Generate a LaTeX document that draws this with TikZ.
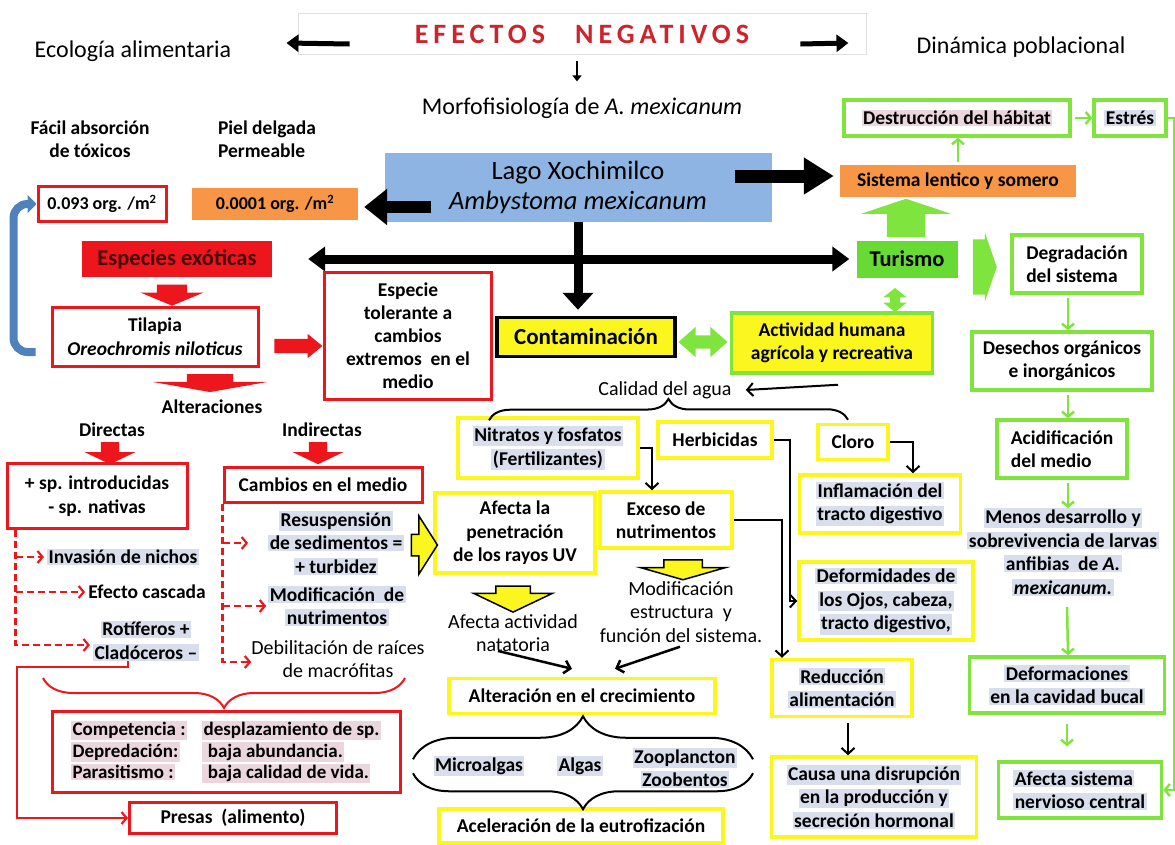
\documentclass[tikz,border=0pt]{standalone}
\usepackage{fontspec}
\setmainfont{Carlito}
\usetikzlibrary{arrows.meta, shapes.arrows, decorations.pathreplacing}

\definecolor{rojo}{RGB}{236,22,28}
\definecolor{amarillo}{RGB}{250,246,30}
\definecolor{verde}{RGB}{128,228,62}
\definecolor{verdeT}{RGB}{104,218,52}
\definecolor{naranja}{RGB}{247,150,70}
\definecolor{lago}{RGB}{142,180,227}
\definecolor{azul}{RGB}{79,129,189}
\definecolor{titulo}{RGB}{205,35,45}
\definecolor{oscuro}{RGB}{70,10,10}
\definecolor{halo}{RGB}{216,222,236}
\definecolor{halop}{RGB}{234,214,220}

% texto con sombreado claro
\newcommand\hz[1]{{\setlength{\fboxsep}{1.5pt}\colorbox{halo}{#1}}}
\newcommand\hzp[1]{{\setlength{\fboxsep}{1.5pt}\colorbox{halop}{#1}}}

\tikzset{
  sz/.style 2 args={minimum width=#1pt, minimum height=#2pt},
  txt/.style={inner sep=0pt, align=center, font=\bfseries\fontsize{19.5}{23.5}\selectfont},
  rtxt/.style={inner sep=0pt, align=center, font=\fontsize{20}{23.5}\selectfont},
  redbox/.style={txt, draw=rojo, line width=3pt, fill=white},
  yelbox/.style={txt, draw=amarillo, line width=3.5pt, fill=white},
  grnbox/.style={txt, draw=verde, line width=3.5pt, fill=white},
  % largo, medio ancho del cuerpo, saliente de la punta, angulo
  flecha/.style n args={4}{single arrow, inner xsep=0pt, inner ysep=#2pt, minimum height=#1pt,
    single arrow head extend=#3pt, single arrow tip angle=#4},
  flechados/.style n args={4}{double arrow, inner xsep=0pt, inner ysep=#2pt, minimum height=#1pt,
    double arrow head extend=#3pt, double arrow tip angle=#4},
  tflecha/.style={line width=5pt, -{Triangle[length=12pt,width=17pt]}},
  narr/.style={line width=2pt, -{Straight Barb[length=6pt,width=13pt]}},
  garr/.style={verde, line width=2.5pt, shorten <=3pt, -{Straight Barb[length=5pt,width=12pt]}},
  rdash/.style={rojo, line width=2.2pt, dash pattern=on 7pt off 4pt, -{Straight Barb[length=5pt,width=12pt]}},
  rarr/.style={rojo, line width=2.2pt, -{Straight Barb[length=5pt,width=12pt]}},
  llave/.style={line width=2pt, decorate, decoration={brace, amplitude=#1}},
}

\begin{document}
\begin{tikzpicture}[x=1pt, y=-1pt]
%\draw [help lines] (0,0) grid (1175,844);
\useasboundingbox (0,0) rectangle (1175,844);

% cabecera
\node[draw=gray!25, line width=.8pt, sz={568}{41}, inner sep=0pt,
  font=\bfseries\fontsize{28}{30}\selectfont\addfontfeature{LetterSpace=18}, text=titulo]
  (title) at (582,34) {EFECTOS\hspace{30pt}NEGATIVOS};
\node[rtxt, font=\fontsize{24}{28}\selectfont] (ecol) at (133,51) {Ecología alimentaria};
\node[rtxt, font=\fontsize{24}{28}\selectfont] (dinam) at (1021,47) {Dinámica poblacional};
\node[rtxt, font=\fontsize{24}{28}\selectfont] (morfo) at (582,108) {Morfofisiología de \textit{A. mexicanum}};
\draw[tflecha] ([shift={(52,10)}]title.west) -- ([shift={(55,-8)}]ecol.east);
\draw[tflecha] ([shift={(-66,10)}]title.east) -- ([shift={(-68,-4)}]dinam.west);
\draw[line width=2.5pt, -{Triangle[length=6pt,width=9pt]}] ([shift={(-5,6)}]title.south) -- ([shift={(-5,-16)}]morfo.north);

% lago
\node[txt] (facil) at (90,139) {Fácil absorción\\de tóxicos};
\node[txt, align=left] (piel) at (267,139) {Piel delgada\\Permeable};
\node[rtxt, fill=lago, sz={387}{69}, font=\fontsize{26.5}{30}\selectfont] (lago) at (578,187)
  {Lago Xochimilco\\\textit{Ambystoma mexicanum}};
\node[redbox, sz={128}{35}, font=\bfseries\fontsize{18}{20}\selectfont] (dens1) at (102,204) {0.093 org. /m\textsuperscript{2}};
\node[txt, fill=naranja, sz={166}{32}, font=\bfseries\fontsize{18}{20}\selectfont] (dens2) at (275,204) {0.0001 org. /m\textsuperscript{2}};
\draw[line width=12pt, -{Triangle[length=23pt,width=35pt]}] ([shift={(47,20)}]lago.west) -- ([shift={(6,3)}]dens2.east);

\node[txt, fill=naranja, sz={236}{32}] (sist) at (958,181) {Sistema lentico y somero};
\node[grnbox, sz={226}{36}] (destr) at (957,118) {\hzp{Destrucción del hábitat}};
\node[grnbox, sz={72}{36}] (estres) at (1130,118) {\hz{Estrés}};
\draw[line width=13pt, -{Triangle[length=30pt,width=35pt]}] ([shift={(-37,-11)}]lago.east) -- ([shift={(-6,-5)}]sist.west);
\draw[garr] (sist.north) -- (sist.north |- destr.south);
\draw[garr] (destr.east) -- (estres.west);

\node[txt, fill=verdeT, sz={101}{37}, font=\bfseries\fontsize{22.5}{26}\selectfont] (turismo) at (907,259) {Turismo};
\node[txt, fill=rojo, sz={190}{36}, text=oscuro, font=\bfseries\fontsize{22.5}{26}\selectfont] (especies) at (177,259) {Especies exóticas};
\node[flecha={38}{19}{26}{143}, fill=verde, rotate=90] (gup) at (906,221) {};
\draw[line width=9pt, {Triangle[length=17pt,width=24pt]}-{Triangle[length=17pt,width=24pt]}]
  ([xshift=36pt]especies.east) -- ([xshift=-7pt]turismo.west);

% especies exoticas
\node[redbox, sz={206}{59}, font=\bfseries\fontsize{19.5}{24}\selectfont] (tilapia) at (155,337) {Tilapia\\\textit{Oreochromis niloticus}};
\node[redbox, sz={167}{127}, font=\bfseries\fontsize{19.5}{23}\selectfont] (toler) at (408,336)
  {Especie\\tolerante a\\cambios\\extremos~ en el\\medio};
\node[flecha={21}{15}{16.5}{135}, fill=rojo, rotate=-90] (ra1) at (172,292) {};
\node[flecha={48}{7}{5}{79}, fill=rojo] (ra2) at (294,346) {};
\node[flecha={18}{23}{34}{160}, fill=rojo, rotate=-90] (ra3) at (210,381) {};
\draw[azul, line width=8pt, rounded corners=14pt, -{Triangle[length=9pt,width=18pt]}]
  ([xshift=-15pt,yshift=-15pt]tilapia.west) -- ++(-22,0) |- (dens1.west);

\node[txt] (alt) at (212,407) {Alteraciones};
\node[txt] (dir) at (112,430) {Directas};
\node[txt] (indir) at (322,430) {Indirectas};
\node[flecha={22}{9}{16}{129}, fill=rojo, rotate=-90] (ra4) at (110,451) {};
\node[flecha={22}{9}{16}{129}, fill=rojo, rotate=-90] (ra5) at (318,451) {};
\node[redbox, sz={180}{65}] (sp) at (97,496) {+ sp. introducidas\\- sp. nativas};
\node[redbox, sz={198}{35}] (camb) at (323,485) {Cambios en el medio};

\node[txt] (invas) at (123,557) {\hz{Invasión de nichos}};
\node[txt] (casc) at (147,592) {Efecto cascada};
\node[txt] (rotif) at (146,641) {\hz{Rotíferos +}\\\hz{Cladóceros –}};
\node[txt] (resus) at (336,543) {\hz{Resuspensión}\\\hz{de sedimentos =}\\\hz{+ turbidez}};
\node[txt] (modnut) at (337,606) {\hz{Modificación~ de}\\\hz{nutrimentos}};
\node[rtxt] (debil) at (338,659) {Debilitación de raíces\\de macrófitas};
\coordinate (dl) at ([xshift=10pt]sp.south west);
\coordinate (dr) at (camb.south west);
\draw[rdash] (dl) |- ([shift={(-3,4)}]rotif.west);
\draw[rdash] (dl |- invas.west) -- ([xshift=-3pt]invas.west);
\draw[rdash] (dl |- casc.west) -- ([xshift=-3pt]casc.west);
\draw[rdash] (dr) |- ([yshift=-3pt]debil.west);
\draw[rdash] (dr |- modnut.west) -- ([xshift=-2pt]modnut.west);
\draw[rdash] (dr |- resus.west) -- ([xshift=-20pt]resus.west);

\node[redbox, sz={348}{81}, align=left, font=\bfseries\fontsize{19}{21.5}\selectfont] (compet) at (226,752)
  {\makebox[131pt][l]{\hzp{Competencia :}}\hzp{desplazamiento de sp.}\\
   \makebox[131pt][l]{\hzp{Depredación:}}\hzp{~baja abundancia.}\\
   \makebox[131pt][l]{\hzp{Parasitismo :}}\hzp{~baja calidad de vida.}};
\node[redbox, sz={207}{31}] (presas) at (233,818) {Presas~ (alimento)};
\draw[rojo, llave=30pt] ([shift={(179,-32)}]compet.north) -- ([shift={(-183,-32)}]compet.north);
\draw[rarr] ([xshift=-18pt]rotif.south) -- ++(0,6) -- ++(-111,0) |- (presas.west);

% contaminacion
\node[txt, fill=amarillo, draw=black, line width=3.5pt, sz={178}{39}, font=\bfseries\fontsize{23}{26}\selectfont]
  (contam) at (586,337) {Contaminación};
\node[grnbox, fill=amarillo, sz={201}{60}] (activ) at (832,343) {Actividad humana\\agrícola y recreativa};
\draw[line width=9pt, shorten >=6pt, -{Triangle[length=17pt,width=30pt]}] (lago.south) -- (lago.south |- contam.north);
\node[flechados={49}{6.5}{8.5}{83}, fill=verde] (gdh) at (703,342) {};
\node[flechados={24}{5}{6.5}{103}, fill=verde, rotate=90] (gdv) at (895,300) {};
\node[rtxt] (calidad) at (665,390) {Calidad del agua};
\draw[narr] ([shift={(6,10)}]activ.south) -- ([xshift=14pt]calidad.east);

\node[yelbox, sz={180}{60}] (nitr) at (548,448) {\hz{Nitratos y fosfatos}\\\hz{(Fertilizantes)}};
\node[yelbox, sz={114}{36}] (herb) at (715,440) {Herbicidas};
\node[yelbox, sz={70}{35}] (cloro) at (853,442) {Cloro};
\draw[llave=21pt] ([shift={(-59,4)}]nitr.north) -- ([shift={(-5,-3)}]cloro.north);
\node[yelbox, sz={161}{58}] (infl) at (880,504) {\hz{Inflamación del}\\\hz{tracto digestivo}};
\node[yelbox, sz={174}{78}] (deform) at (886,601) {\hz{Deformidades de}\\\hz{los Ojos, cabeza,}\\\hz{tracto digestivo,}};
\node[yelbox, sz={160}{80}] (afpen) at (515,533) {Afecta la\\penetración\\de los rayos UV};
\node[yelbox, sz={132}{56}] (exceso) at (666,520) {Exceso de\\nutrimentos};
\node[flecha={26}{10}{18.5}{115}, fill=amarillo, draw=black, line width=1.5pt] (ya0) at (421,545) {};
\node[flecha={26}{16.5}{22}{129}, fill=amarillo, draw=black, line width=1.5pt, rotate=-90] (ya1) at (513,595) {};
\node[flecha={20}{18.5}{23}{148}, fill=amarillo, draw=black, line width=1.5pt, rotate=-90] (ya2) at (683,567) {};
\node[rtxt] (afact) at (513,633) {Afecta actividad\\natatoria};
\node[rtxt] (modest) at (681,612) {Modificación\\estructura~ y\\función del sistema.};
\node[yelbox, sz={140}{57}] (reduc) at (842,688) {\hz{Reducción}\\\hz{alimentación}};
\node[yelbox, sz={205}{80}] (causa) at (874,797) {\hz{Causa una disrupción}\\\hz{en la producción y}\\\hz{secreción hormonal}};
\draw[narr] (nitr.east) -| ([xshift=-14pt]exceso.north);
\draw[narr] (herb.east) -- ++(16,0) |- (deform.west);
\draw[narr] (exceso.east) -| ([xshift=-60pt]reduc.north);
\draw[narr] (cloro.east) -| ([xshift=33pt]infl.north);
\draw[narr, shorten <=5pt] ([xshift=6pt]reduc.south) -- ([xshift=-26pt]causa.north);

\node[yelbox, sz={266}{35}] (alter) at (582,696) {Alteración en el crecimiento};
\draw[narr, line width=2.5pt] ([shift={(-15,-1)}]afact.south) -- ([shift={(-10,-8)}]alter.north);
\draw[narr, line width=2.5pt] ([shift={(-1,4)}]modest.south) -- ([shift={(33,-8)}]alter.north);
\node[txt] (micro) at (479,766) {\hz{Microalgas}};
\node[txt] (algas) at (580,766) {\hz{Algas}};
\node[txt] (zoo) at (685,768) {\hz{Zooplancton}\\\hz{Zoobentos}};
\node[yelbox, sz={284}{34}] (acel) at (581,826) {Aceleración de la eutrofización};
\draw[llave=43pt] ([shift={(-169,44)}]alter.south) -- ([shift={(171,44)}]alter.south);
\draw[llave=36pt] ([shift={(172,-34)}]acel.north) -- ([shift={(-168,-34)}]acel.north);

% degradacion del sistema
\node[flecha={24}{27.5}{7}{142}, fill=verde] (gch) at (980,267) {};
\node[grnbox, sz={130}{58}, align=left] (degr) at (1077,264) {Degradación\\del sistema};
\node[grnbox, sz={180}{58}] (desech) at (1062,361) {Desechos orgánicos\\e inorgánicos};
\node[grnbox, sz={130}{58}, align=left] (acid) at (1062,449) {Acidificación\\del medio};
\node[txt] (menos) at (1063,552) {\hz{Menos desarrollo y}\\\hz{sobrevivencia de larvas}\\\hz{anfibias~ de \textit{A.}}\\\hz{\textit{mexicanum.}}};
\node[grnbox, sz={195}{56}] (deforc) at (1067,685) {\hz{Deformaciones}\\\hz{en la cavidad bucal}};
\node[grnbox, sz={163}{56}, align=left] (afsnc) at (1080,790) {\hz{Afecta sistema}\\\hz{nervioso central}};
\draw[garr] ([xshift=-9pt]degr.south) -- ([xshift=6pt]desech.north);
\draw[garr] ([xshift=6pt]desech.south) -- ([xshift=6pt]acid.north);
\draw[garr] ([xshift=6pt]acid.south) -- ([xshift=5pt]menos.north);
\draw[garr] ([shift={(4,8)}]menos.south) -- ([xshift=1pt]deforc.north);
\draw[garr, shorten <=9pt, shorten >=14pt] (deforc.south) -- (deforc.south |- afsnc.north);
\draw[garr, shorten <=0pt] (estres.east) -- ++(6,0) |- (afsnc.east);
\end{tikzpicture}
\end{document}
